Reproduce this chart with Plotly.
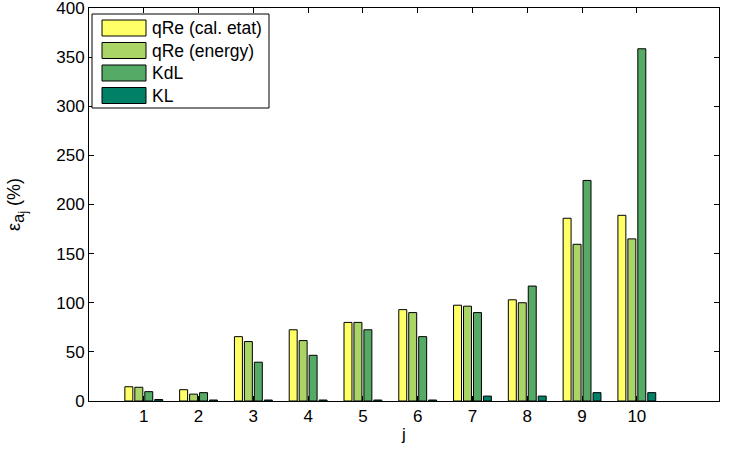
import plotly.graph_objects as go

# Relative error per mode j, four estimation methods
j = [1, 2, 3, 4, 5, 6, 7, 8, 9, 10]
qre_cal_etat = [14.5, 11.5, 65.5, 72.5, 80, 93, 97.5, 103, 186, 189]
qre_energy = [14, 7, 60.5, 61.5, 80, 90, 96.5, 100, 159.5, 165]
kdl = [9.5, 8.5, 39.5, 46.5, 72.5, 65.5, 90, 117, 224.5, 358.5]
kl = [1.5, 1, 1, 1, 1, 1, 5, 5, 8.5, 8.5]
y_ticks = [0, 50, 100, 150, 200, 250, 300, 350, 400]

series_names = ["qRe (cal. etat)", "qRe (energy)", "KdL", "KL"]
series_values = [qre_cal_etat, qre_energy, kdl, kl]
# "summer" colormap, four levels
series_colors = ["#FFFF66", "#AAD466", "#55AA66", "#008066"]

W, H = 740, 451
L, R, T, B = 89, 21, 8, 50
PW, PH = W - L - R, H - T - B

FONT = "Liberation Sans, Arial, Helvetica, sans-serif"

fig = go.Figure()
for name, vals, col in zip(series_names, series_values, series_colors):
    fig.add_trace(go.Bar(
        x=j, y=vals, name=name, showlegend=False,
        marker=dict(color=col, line=dict(color="black", width=1)),
    ))


def px_x(p):
    return (p - L) / PW


def px_y(p):
    return (H - B - p) / PH


shapes = []
annotations = []

# Legend box
shapes.append(dict(type="rect", xref="paper", yref="paper",
                   x0=px_x(92), x1=px_x(269), y0=px_y(108), y1=px_y(14),
                   line=dict(color="black", width=1), fillcolor="white", layer="above"))
row_y = [28, 50.5, 73, 95.5]
for name, col, cy in zip(series_names, series_colors, row_y):
    shapes.append(dict(type="rect", xref="paper", yref="paper",
                       x0=px_x(102), x1=px_x(146), y0=px_y(cy + 8), y1=px_y(cy - 8),
                       line=dict(color="black", width=1), fillcolor=col, layer="above"))
    annotations.append(dict(xref="paper", yref="paper", x=px_x(150), y=px_y(cy),
                            text=name, showarrow=False, xanchor="left", yanchor="middle",
                            font=dict(size=17.5, color="black", family=FONT)))

y_title = ("ε<sub><span style='font-size:17px'>a</span>"
           "<sub><span style='font-size:12px'>j</span></sub></sub> (%)")

fig.update_layout(
    width=W, height=H,
    margin=dict(l=L, r=R, t=T, b=B, autoexpand=False),
    paper_bgcolor="white", plot_bgcolor="white",
    barmode="group", bargap=0.273, bargroupgap=0.2,
    font=dict(family=FONT, size=17, color="black"),
    shapes=shapes, annotations=annotations,
    xaxis=dict(
        range=[0, 11.5], tickvals=j, ticktext=[str(v) for v in j],
        showgrid=False, zeroline=False, automargin=False,
        showline=True, linecolor="black", linewidth=1, mirror="ticks",
        ticks="inside", ticklen=5, tickwidth=1, tickcolor="black",
        ticklabeloverflow="allow",
        title=dict(text="j", standoff=2, font=dict(size=17)),
    ),
    yaxis=dict(
        range=[0, 400], tickvals=y_ticks, ticktext=[str(v) for v in y_ticks],
        showgrid=False, zeroline=False, automargin=False,
        showline=True, linecolor="black", linewidth=1, mirror="ticks",
        ticks="inside", ticklen=5, tickwidth=1, tickcolor="black",
        ticklabeloverflow="allow",
        title=dict(text=y_title, standoff=30, font=dict(size=18)),
    ),
)

fig.write_html("out.html")
